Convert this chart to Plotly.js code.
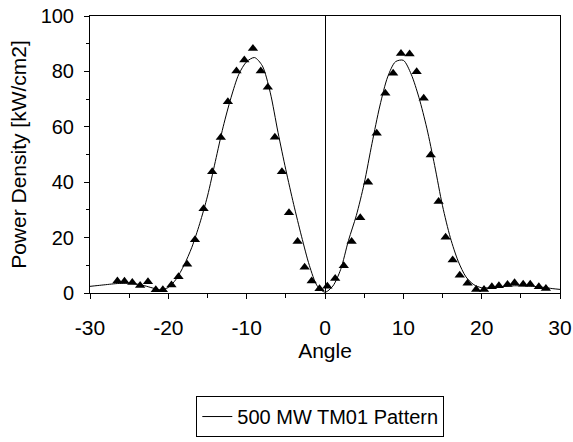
<!DOCTYPE html>
<html><head><meta charset="utf-8">
<script src="https://cdn.plot.ly/plotly-3.0.1.min.js"></script>
<style>html,body{margin:0;padding:0;background:#fff}</style>
</head><body><div id="chart" style="width:573px;height:442px"></div>
<script>
const measuredAngle = [-26.5,-25.6,-24.6,-23.6,-22.6,-21.6,-20.7,-19.6,-18.7,-17.6,-16.6,-15.5,-14.4,-13.3,-12.4,-11.3,-10.3,-9.2,-8.2,-7.3,-6.4,-5.5,-4.6,-3.5,-2.6,-1.7,-0.7,0.3,1.3,2.4,3.4,4.5,5.5,6.6,7.7,8.7,9.7,10.8,11.7,12.6,13.5,14.5,15.4,16.3,17.2,18.2,19.3,20.3,21.3,22.2,23.3,24.2,25.3,26.2,27.3,28.2];
const measuredDensity = [4.3,4.2,3.8,2.7,4.1,1.2,1.2,2.9,5.9,10.4,19.2,30.4,43.8,56.1,69.0,80.1,84.1,88.3,80.1,74.3,56.2,43.8,29.0,18.6,9.3,4.3,1.5,2.4,5.2,9.8,18.6,27.2,40.0,57.7,72.1,79.3,86.5,86.3,79.9,70.3,49.8,33.0,20.1,11.9,6.4,3.5,1.3,1.3,2.3,2.6,3.1,3.7,3.2,3.2,2.3,1.6];
const patternAngle = [-30,-29,-28,-27,-26,-25,-24,-23,-22,-21,-20,-19,-18,-17,-16,-15,-14,-13,-12,-11,-10,-9,-8,-7,-6,-5,-4,-3,-2,-1,0,1,2,3,4,5,6,7,8,9,10,11,12,13,14,15,16,17,18,19,20,21,22,23,24,25,26,27,28,29,30];
const patternDensity = [2.4,2.7,3.0,3.3,3.5,3.5,3.2,2.6,1.8,1.1,2.0,5.0,10.0,16.5,25.0,35.0,47.5,60.0,70.5,79.0,83.5,85.0,82.0,72.5,58.0,44.5,32.0,20.5,10.0,2.6,0.3,2.5,8.5,19.0,28.0,39.5,54.0,67.5,78.0,83.5,84.0,79.0,70.5,59.5,46.0,31.5,20.0,11.5,5.8,3.0,1.9,1.9,2.2,2.4,2.6,2.6,2.5,2.3,2.0,1.6,1.3];
const xTickVals = [-30,-20,-10,0,10,20,30];
const xTickText = ['-30','-20','-10','0','10','20','30'];
const yTickVals = [0,20,40,60,80,100];
const legendLabel = '500 MW TM01 Pattern';

const font = 'Liberation Sans, Arial, sans-serif';
const traces = [
  {x: patternAngle, y: patternDensity, type: 'scatter', mode: 'lines', name: legendLabel,
   line: {color: '#000', width: 1, shape: 'spline', smoothing: 0.8}, showlegend: true},
  {x: measuredAngle, y: measuredDensity, type: 'scatter', mode: 'markers', name: 'Measured',
   marker: {symbol: 'triangle-up', color: '#000', size: 9}, showlegend: false, cliponaxis: false}
];
const layout = {
  width: 573, height: 442,
  margin: {l: 90, r: 13, t: 16, b: 149, autoexpand: false},
  paper_bgcolor: '#fff', plot_bgcolor: '#fff',
  font: {family: font, size: 20, color: '#000'},
  showlegend: true,
  legend: {x: 0.49, xanchor: 'center', y: -0.372, yanchor: 'top', bordercolor: '#000', borderwidth: 1,
           font: {family: font, size: 20, color: '#000'}, itemwidth: 30, bgcolor: '#fff'},
  xaxis: {range: [-30, 30], tickvals: xTickVals, ticktext: xTickText, ticks: 'outside', ticklen: 5, tickcolor: '#000',
          showline: true, linecolor: '#000', linewidth: 1, mirror: true, showgrid: false,
          zeroline: true, zerolinecolor: '#000', zerolinewidth: 1, ticklabeloverflow: 'allow',
          minor: {dtick: 5, ticks: 'outside', ticklen: 4, tickcolor: '#000'},
          tickfont: {family: font, size: 21}, ticklabelstandoff: 11, automargin: false,
          title: {text: 'Angle', font: {family: font, size: 21}, standoff: 0}},
  yaxis: {range: [0, 100], tickvals: yTickVals, ticks: 'outside', ticklen: 5, tickcolor: '#000',
          showline: true, linecolor: '#000', linewidth: 1, mirror: true, showgrid: false,
          zeroline: false, automargin: false,
          minor: {dtick: 10, ticks: 'outside', ticklen: 3, tickcolor: '#000'},
          tickfont: {family: font, size: 20}, ticklabelstandoff: 6,
          title: {text: 'Power Density [kW/cm2]', font: {family: font, size: 21}, standoff: 8}}
};
Plotly.newPlot('chart', traces, layout, {displayModeBar: false, staticPlot: true});
</script></body></html>
